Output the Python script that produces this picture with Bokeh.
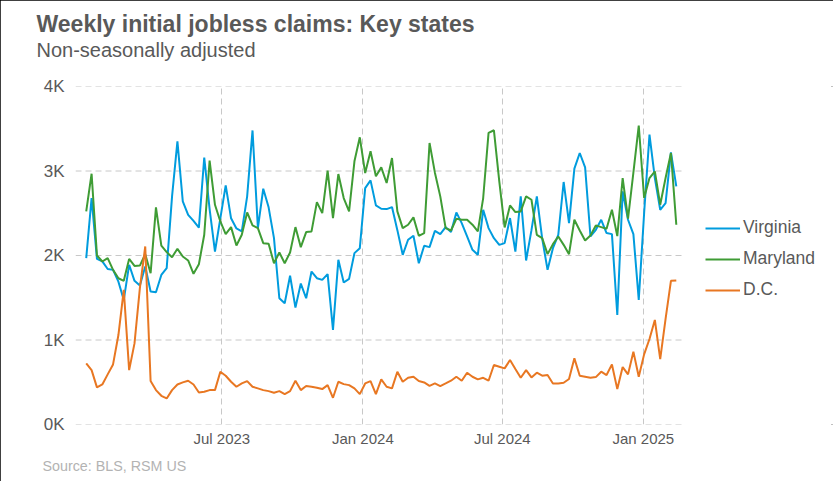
import datetime as dt
from bokeh.plotting import figure
from bokeh.models import (FixedTicker, DatetimeTickFormatter, Legend, LegendItem,
                          Range1d, ColumnDataSource, Title)
from bokeh.embed import file_html
from bokeh.resources import INLINE

# ---- data (weekly, non-seasonally adjusted initial claims) ----
start_date = dt.datetime(2023, 1, 5)

virginia = [1968, 2680, 1960, 1930, 1840, 1830, 1690, 1475, 1890, 1700,
            1645, 1870, 1573, 1565, 1770, 1850, 2700, 3350, 2640, 2480,
            2410, 2330, 3160, 2550, 2047, 2440, 2830, 2440, 2320, 2285,
            2700, 3480, 2325, 2790, 2570, 2205, 1494, 1435, 1760, 1383,
            1668, 1494, 1810, 1731, 1711, 1779, 1119, 1949, 1680, 1723,
            2028, 2087, 2798, 2889, 2593, 2553, 2549, 2573, 2300, 2008,
            2186, 2233, 1909, 2115, 2099, 2292, 2253, 2336, 2277, 2510,
            2383, 2225, 2067, 2008, 2541, 2324, 2205, 2126, 2146, 2443,
            2047, 2700, 1941, 2300, 2700, 2200, 1830, 2087, 2245, 2870,
            2383, 3028, 3213, 3043, 2225, 2304, 2423, 2265, 2253, 1296,
            2759, 2423, 2253, 1474, 2500, 3430, 2917, 2541, 2620, 3221,
            2818]

maryland = [2522, 2968, 2000, 1929, 1968, 1830, 1731, 1700, 1960, 1877,
            1881, 2016, 1790, 2569, 2118, 2040, 1980, 2079, 1988, 1941,
            1783, 1897, 2245, 3123, 2600, 2403, 2253, 2336, 2118, 2245,
            2510, 2356, 2324, 2146, 2138, 1909, 2036, 1909, 2036, 2336,
            2099, 2277, 2285, 2632, 2502, 3004, 2443, 2964, 2680, 2522,
            3115, 3399, 2976, 3233, 2937, 3043, 2858, 3154, 2522, 2324,
            2364, 2451, 2233, 2265, 3332, 2980, 2700, 2324, 2296, 2435,
            2423, 2423, 2364, 2285, 2680, 3451, 3482, 2877, 2332, 2593,
            2514, 2522, 2700, 2660, 2245, 2206, 2016, 2134, 2225, 2126,
            2016, 2423, 2296, 2178, 2237, 2356, 2336, 2316, 2541, 2230,
            2917, 2435, 2980, 3538, 2680, 2917, 2996, 2601, 2917, 3213,
            2364]

dc = [723, 644, 439, 474, 593, 711, 1059, 1593, 644, 960,
      1613, 2107, 514, 407, 340, 308, 407, 474, 498, 518,
      474, 379, 387, 407, 407, 625, 577, 506, 447, 486,
      514, 447, 427, 407, 395, 375, 395, 360, 395, 518,
      407, 455, 447, 435, 419, 466, 316, 506, 478, 466,
      427, 360, 486, 514, 360, 534, 447, 427, 625, 506,
      553, 565, 514, 498, 458, 486, 455, 486, 518, 565,
      518, 613, 565, 534, 553, 518, 704, 684, 664, 763,
      656, 553, 644, 557, 613, 577, 585, 486, 486, 494,
      538, 783, 577, 565, 553, 561, 625, 585, 711, 419,
      680, 593, 862, 565, 830, 1012, 1237, 775, 1250, 1700,
      1704]

series_names = ["Virginia", "Maryland", "D.C."]
series_colors = ["#009CDE", "#3F9C35", "#E87722"]

x_tick_dates = [dt.datetime(2023, 7, 1), dt.datetime(2024, 1, 1),
                dt.datetime(2024, 7, 1), dt.datetime(2025, 1, 1)]
y_ticks = [0, 1000, 2000, 3000, 4000]
y_tick_labels = ["0K", "1K", "2K", "3K", "4K"]

dates = [start_date + dt.timedelta(weeks=i) for i in range(len(virginia))]
source = ColumnDataSource(dict(date=dates, va=virginia, md=maryland, dc=dc))

EPOCH = dt.datetime(1970, 1, 1)
def to_ms(d):
    return (d - EPOCH).total_seconds() * 1000.0

FONT = "Liberation Sans"
TEXT = "#595959"
GRID = "#c8c8c8"

W, H = 833, 481
LEFT, RIGHT_DATA, TOP, BOTTOM = 75, 685, 86, 424   # plot area of the chart
x_start = to_ms(dt.datetime(2022, 12, 22))
x_end_data = to_ms(dt.datetime(2025, 2, 25))
# frame is extended to the right edge so the legend can sit inside it
x_end = x_start + (x_end_data - x_start) * (W - LEFT) / (RIGHT_DATA - LEFT)

p = figure(width=W, height=H, x_axis_type="datetime",
           output_backend="svg", toolbar_location=None, title=None,
           x_range=Range1d(x_start, x_end), y_range=Range1d(0, 4000),
           min_border_left=LEFT, min_border_right=0,
           min_border_top=TOP, min_border_bottom=H - BOTTOM)
p.outline_line_color = None
p.background_fill_color = "white"
p.border_fill_color = "white"
p.styles = {"outline": "2px solid black", "outline-offset": "-2px"}

# axes
p.xaxis.ticker = FixedTicker(ticks=[to_ms(d) for d in x_tick_dates])
p.xaxis.formatter = DatetimeTickFormatter(days="%b %Y", months="%b %Y", years="%b %Y")
p.yaxis.ticker = FixedTicker(ticks=y_ticks)
p.yaxis.major_label_overrides = {t: l for t, l in zip(y_ticks, y_tick_labels)}
for ax in (p.xaxis, p.yaxis):
    ax.axis_line_color = None
    ax.major_tick_line_color = None
    ax.minor_tick_line_color = None
    ax.major_tick_out = 0
    ax.major_tick_in = 0
    ax.minor_tick_out = 0
    ax.major_label_text_font = FONT
    ax.major_label_text_color = TEXT
p.xaxis.major_label_text_font_size = "15px"
p.yaxis.major_label_text_font_size = "17px"
p.xaxis.major_label_standoff = 5
p.yaxis.major_label_standoff = 11

# grid: vertical lines from the grid, horizontal lines only across the data area
p.xgrid.grid_line_color = GRID
p.xgrid.grid_line_dash = "6 4"
p.xgrid.grid_line_width = 1
p.ygrid.grid_line_color = None
p.segment(x0=[x_start] * len(y_ticks), x1=[x_end_data] * len(y_ticks),
          y0=y_ticks, y1=y_ticks, line_color=GRID, line_dash="6 4",
          line_width=1, level="underlay")

r_va = p.line("date", "va", source=source, line_color=series_colors[0], line_width=2)
r_md = p.line("date", "md", source=source, line_color=series_colors[1], line_width=2)
r_dc = p.line("date", "dc", source=source, line_color=series_colors[2], line_width=2)

legend = Legend(items=[LegendItem(label=series_names[0], renderers=[r_va]),
                       LegendItem(label=series_names[1], renderers=[r_md]),
                       LegendItem(label=series_names[2], renderers=[r_dc])],
                location=(630, 124), padding=0, margin=0, spacing=10,
                glyph_width=35, glyph_height=20, label_height=20,
                label_standoff=3, border_line_color=None,
                background_fill_alpha=0,
                label_text_font=FONT, label_text_font_size="17.5px",
                label_text_color=TEXT)
p.add_layout(legend, "center")

# titles: spacer nearest the frame, then subtitle, then title
p.add_layout(Title(text=" ", text_font_size="1px", standoff=23), "above")
p.add_layout(Title(text="Non-seasonally adjusted", align="left", offset=-39,
                   standoff=0, text_font=FONT, text_font_size="20px",
                   text_font_style="normal", text_color=TEXT), "above")
p.add_layout(Title(text="Weekly initial jobless claims: Key states", align="left",
                   offset=-39, standoff=0, text_font=FONT, text_font_size="23px",
                   text_font_style="bold", text_color=TEXT), "above")
p.add_layout(Title(text="Source: BLS, RSM US", align="left", offset=-33,
                   standoff=12, text_font=FONT, text_font_size="14.3px",
                   text_font_style="normal", text_color="#b3b3b3"), "below")

open("out.html", "w").write(file_html(p, INLINE))
